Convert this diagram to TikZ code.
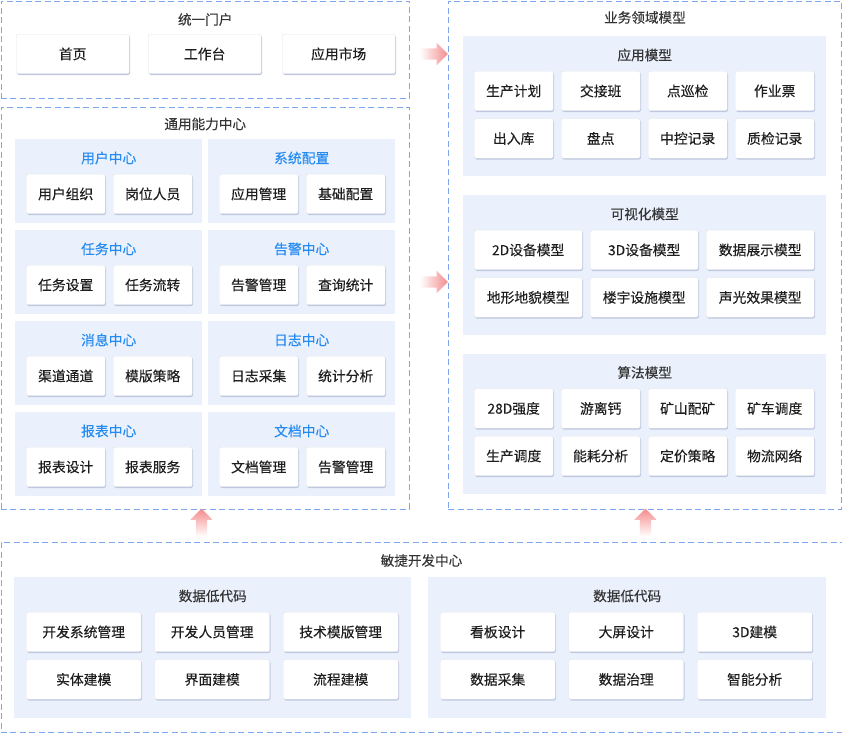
\documentclass[tikz,border=0pt]{standalone}
\usepackage{fontspec}
\setmainfont{Noto Sans CJK SC}[FakeBold=0.25]
\usetikzlibrary{calc,positioning,shapes.arrows,shadows}
\definecolor{zoneblue}{RGB}{126,166,236}
\definecolor{panelfill}{RGB}{234,241,253}
\definecolor{titleblue}{RGB}{38,139,240}
\definecolor{cellline}{RGB}{226,228,233}
\definecolor{cellshadow}{RGB}{192,200,224}
\definecolor{arrowpink}{RGB}{244,140,140}
\definecolor{textdark}{RGB}{30,30,30}

\begin{document}
\begin{tikzpicture}[x=1pt,y=-1pt,
    zone/.style={draw=zoneblue,dash pattern=on 6pt off 3.5pt,line width=0.9pt,anchor=north west,inner sep=0pt},
    panel/.style={fill=panelfill,anchor=north west,inner sep=0pt},
    cell/.style={draw=cellline,fill=white,rounded corners=2pt,
      drop shadow={shadow xshift=0.8pt,shadow yshift=-1.3pt,fill=cellshadow,opacity=1},
      minimum height=39.5pt,anchor=north west,inner sep=0pt,
      font=\fontsize{13.8}{15}\selectfont,text=textdark},
    title/.style={font=\fontsize{13.6}{16}\selectfont,text=textdark!90},
    subtitle/.style={font=\fontsize{13.8}{16}\selectfont,text=titleblue},
    flow/.style={single arrow,single arrow head extend=5.5pt,single arrow head indent=0pt,
      inner sep=5.5pt,minimum height=28pt}]
  \useasboundingbox (0,0) rectangle (842,732);

  % portal
  \node[zone,minimum width=408.5pt,minimum height=97.5pt] (portal) at (0.5,0.5) {};
  \node[title] (portalT) at ($(portal.north)+(0,19)$) {统一门户};
  \foreach \n/\px/\t in {home/16/首页,desk/148/工作台,store/282/应用市场}
    \node[cell,minimum width=113pt] (\n) at (\px,34) {\t};

  % common ability centre
  \node[zone,minimum width=408.5pt,minimum height=402pt] (ability) at (0.5,107) {};
  \node[title] (abilityT) at ($(ability.north)+(0,17)$) {通用能力中心};
  \foreach \n/\px/\py/\t/\a/\b in {
      pUser/15/139/用户中心/用户组织/岗位人员,
      pSys/208/139/系统配置/应用管理/基础配置,
      pTask/15/230/任务中心/任务设置/任务流转,
      pAlarm/208/230/告警中心/告警管理/查询统计,
      pMsg/15/321/消息中心/渠道通道/模版策略,
      pLog/208/321/日志中心/日志采集/统计分析,
      pReport/15/412/报表中心/报表设计/报表服务,
      pDoc/208/412/文档中心/文档管理/告警管理} {
    \node[panel,minimum width=187pt,minimum height=84pt] (\n) at (\px,\py) {};
    \node[subtitle] (\n-t) at ($(\n.north)+(0,19)$) {\t};
    \node[cell,minimum width=79pt] (\n-a) at ($(\n.north west)+(11,35)$) {\a};
    \node[cell,minimum width=79pt] (\n-b) at ($(\n.north west)+(98,35)$) {\b};
  }

  % business domain models
  \node[zone,minimum width=393pt,minimum height=508.5pt] (domain) at (448,0.5) {};
  \node[title] (domainT) at ($(domain.north)+(0,17)$) {业务领域模型};
  \foreach \n/\py/\t in {pApp/36/应用模型,pVis/195/可视化模型,pAlgo/353.5/算法模型} {
    \node[panel,minimum width=363pt,minimum height=140pt] (\n) at (463,\py) {};
    \node[title] (\n-t) at ($(\n.north)+(0,19)$) {\t};
  }
  \foreach \t [count=\i] in {生产计划,交接班,点巡检,作业票,出入库,盘点,中控记录,质检记录}
    \node[cell,minimum width=79pt] (app\i)
      at ($(pApp.north west)+({11+87*mod(\i-1,4)},{35+47.5*int((\i-1)/4)})$) {\t};
  \foreach \t [count=\i] in {2D设备模型,3D设备模型,数据展示模型,地形地貌模型,楼宇设施模型,声光效果模型}
    \node[cell,minimum width=108pt] (vis\i)
      at ($(pVis.north west)+({11+116*mod(\i-1,3)},{35+47.5*int((\i-1)/3)})$) {\t};
  \foreach \t [count=\i] in {28D强度,游离钙,矿山配矿,矿车调度,生产调度,能耗分析,定价策略,物流网络}
    \node[cell,minimum width=79pt] (algo\i)
      at ($(pAlgo.north west)+({11+87*mod(\i-1,4)},{35+47.5*int((\i-1)/4)})$) {\t};

  % agile development centre
  \node[zone,minimum width=841pt,minimum height=189.5pt] (agile) at (0.5,542) {};
  \node[title] (agileT) at ($(agile.north)+(0,18.5)$) {敏捷开发中心};
  \foreach \n/\px/\w in {pLowL/14/397,pLowR/428/398} {
    \node[panel,minimum width=\w pt,minimum height=141pt] (\n) at (\px,577) {};
    \node[title] (\n-t) at ($(\n.north)+(0,19)$) {数据低代码};
  }
  \foreach \t [count=\i] in {开发系统管理,开发人员管理,技术模版管理,实体建模,界面建模,流程建模}
    \node[cell,minimum width=115pt] (lowL\i)
      at ($(pLowL.north west)+({12+128.5*mod(\i-1,3)},{35+47.5*int((\i-1)/3)})$) {\t};
  \foreach \t [count=\i] in {看板设计,大屏设计,3D建模,数据采集,数据治理,智能分析}
    \node[cell,minimum width=115pt] (lowR\i)
      at ($(pLowR.north west)+({12+128.5*mod(\i-1,3)},{35+47.5*int((\i-1)/3)})$) {\t};

  % flow arrows
  \node[flow,left color=white,right color=arrowpink] (toDomainA) at (431,54) {};
  \node[flow,left color=white,right color=arrowpink] (toDomainB) at (431,282) {};
  \node[flow,shape border rotate=90,top color=arrowpink,bottom color=white] (upAbility) at (201.5,525.5) {};
  \node[flow,shape border rotate=90,top color=arrowpink,bottom color=white] (upDomain) at (645.5,525.5) {};
\end{tikzpicture}
\end{document}
